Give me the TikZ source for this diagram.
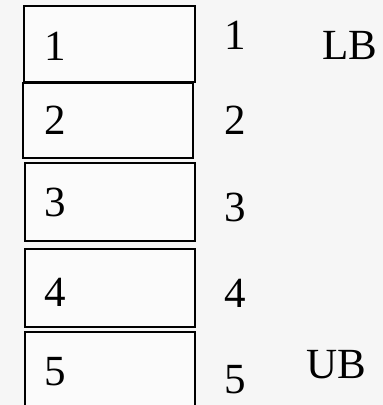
\documentclass[tikz,border=0pt]{standalone}
\usepackage{fontspec}
\setmainfont{Liberation Serif}
\usetikzlibrary{positioning}
\definecolor{slotBg}{HTML}{F6F6F6}
\tikzset{
  % one slot of the stack
  slot/.style={draw=black, line width=1.3pt, fill=white!60!slotBg,
    inner sep=0pt, minimum width=170pt, minimum height=77pt},
  % digits and bound labels
  num/.style={font=\fontsize{43}{50}\selectfont, inner sep=0pt, text=black},
}
\begin{document}
\begin{tikzpicture}[x=1pt,y=-1pt]
  \fill[slotBg] (0,0) rectangle (383,405);
  \clip (0,0) rectangle (383,405);

  % slots, the number inside each, and the index to the right
  \foreach \i/\cx/\cy/\w/\h/\iy/\oy in {1/109.5/44/171/76/46/35,
      2/108/120.5/170/75/120/120, 3/110/202/170/78/202/207,
      4/110/288/170/78/292/293, 5/110/371/170/78/372/380}{
    \node[slot, minimum width=\w pt, minimum height=\h pt] (b\i) at (\cx,\cy) {};
    \node[num] (in\i) at (55,\iy) {\i};
    \node[num] (out\i) at (235,\oy) {\i};
  }

  \node[num] (lb) at (350,45) {LB};
  \node[num] (ub) at (336,365) {UB};
\end{tikzpicture}
\end{document}
